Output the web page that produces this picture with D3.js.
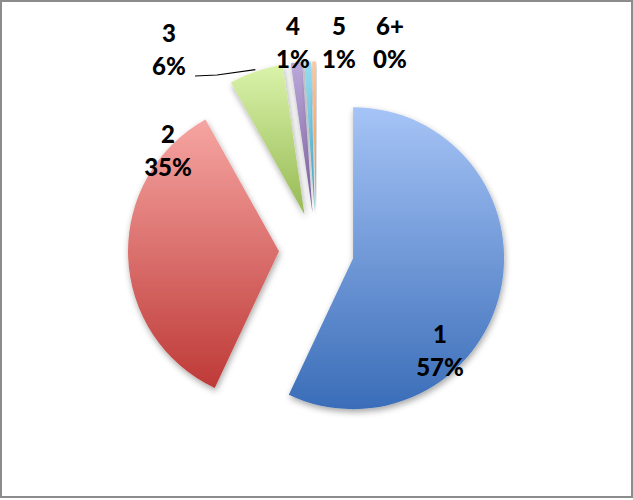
<!DOCTYPE html>
<html>
<head>
<meta charset="utf-8">
<script src="https://cdn.jsdelivr.net/npm/d3@7"></script>
<style>
  html, body { margin: 0; padding: 0; background: #fff; }
  svg { display: block; }
  .lbl { font-family: Lato, "Open Sans", sans-serif; font-weight: 900; font-size: 24px; fill: #000; }
</style>
</head>
<body>
<div id="chart"></div>
<script>
// data (share of total, percent)
const categories = ["1", "2", "3", "4", "5", "6+"];
const values = [57.0, 34.9, 5.8, 1.2, 0.7, 0.4];

// office-style slice colours, light tint at top -> base at bottom
const topColors = ["#a6c4f6", "#f6a5a2", "#d9f3a9", "#bba9d9", "#98dcf2", "#fcc89e"];
const bottomColors = ["#3a6db8", "#be3a37", "#97b954", "#7a5e9e", "#42a5c2", "#f08b3a"];

// label anchors (manually placed in the original)
const labelPos = [[440, 343], [168, 143], [169, 42], [293, 35], [339, 35], [390, 35]];

const width = 633, height = 500;
const cx = 316.5, cy = 250, radius = 151, explode = 37.5;

const svg = d3.select("#chart").append("svg")
  .attr("width", width)
  .attr("height", height);

const defs = svg.append("defs");

const filter = defs.append("filter")
  .attr("id", "shadow")
  .attr("x", "-20%").attr("y", "-20%")
  .attr("width", "140%").attr("height", "140%");
filter.append("feDropShadow")
  .attr("dx", 1).attr("dy", 3)
  .attr("stdDeviation", 3)
  .attr("flood-color", "#000")
  .attr("flood-opacity", 0.35);

categories.forEach((c, i) => {
  const g = defs.append("linearGradient")
    .attr("id", "grad" + i)
    .attr("x1", 0).attr("y1", 0)
    .attr("x2", 0).attr("y2", 1);
  g.append("stop").attr("offset", "0%").attr("stop-color", topColors[i]);
  g.append("stop").attr("offset", "100%").attr("stop-color", bottomColors[i]);
});

// chart frame
svg.append("rect")
  .attr("x", 1).attr("y", 1)
  .attr("width", width - 2).attr("height", height - 2 - 2)
  .attr("fill", "#fff")
  .attr("stroke", "#8c8c8c")
  .attr("stroke-width", 2);

const pie = d3.pie().sort(null).value(d => d)(values);
const arc = d3.arc().innerRadius(0).outerRadius(radius);

const offset = (d) => {
  const mid = (d.startAngle + d.endAngle) / 2;
  return [Math.sin(mid) * explode, -Math.cos(mid) * explode];
};

const g = svg.append("g").attr("transform", `translate(${cx},${cy})`);

g.selectAll("path.slice")
  .data(pie)
  .join("path")
  .attr("class", "slice")
  .attr("d", arc)
  .attr("transform", d => `translate(${offset(d)})`)
  .attr("fill", (d, i) => `url(#grad${i})`)
  .attr("filter", "url(#shadow)");

// percent labels
const total = d3.sum(values);
const pct = (v) => Math.round(v / total * 100) + "%";

// leader line for slice 3
const s3 = pie[2];
const mid3 = (s3.startAngle + s3.endAngle) / 2;
const [ox, oy] = offset(s3);
const ex = cx + ox + Math.sin(mid3) * (radius + 2);
const ey = cy + oy - Math.cos(mid3) * (radius + 2);
svg.append("path")
  .attr("d", d3.line()([[labelPos[2][0] + 26, labelPos[2][1] + 34], [labelPos[2][0] + 48, labelPos[2][1] + 33], [ex, ey]]))
  .attr("fill", "none")
  .attr("stroke", "#000")
  .attr("stroke-width", 1.2);

const labels = svg.selectAll("text.lbl")
  .data(pie)
  .join("text")
  .attr("class", "lbl")
  .attr("text-anchor", "middle")
  .attr("x", (d, i) => labelPos[i][0])
  .attr("y", (d, i) => labelPos[i][1]);

labels.append("tspan")
  .attr("x", (d, i) => labelPos[i][0])
  .text((d, i) => categories[i]);
labels.append("tspan")
  .attr("x", (d, i) => labelPos[i][0])
  .attr("dy", 33)
  .text(d => pct(d.value));
</script>
</body>
</html>
